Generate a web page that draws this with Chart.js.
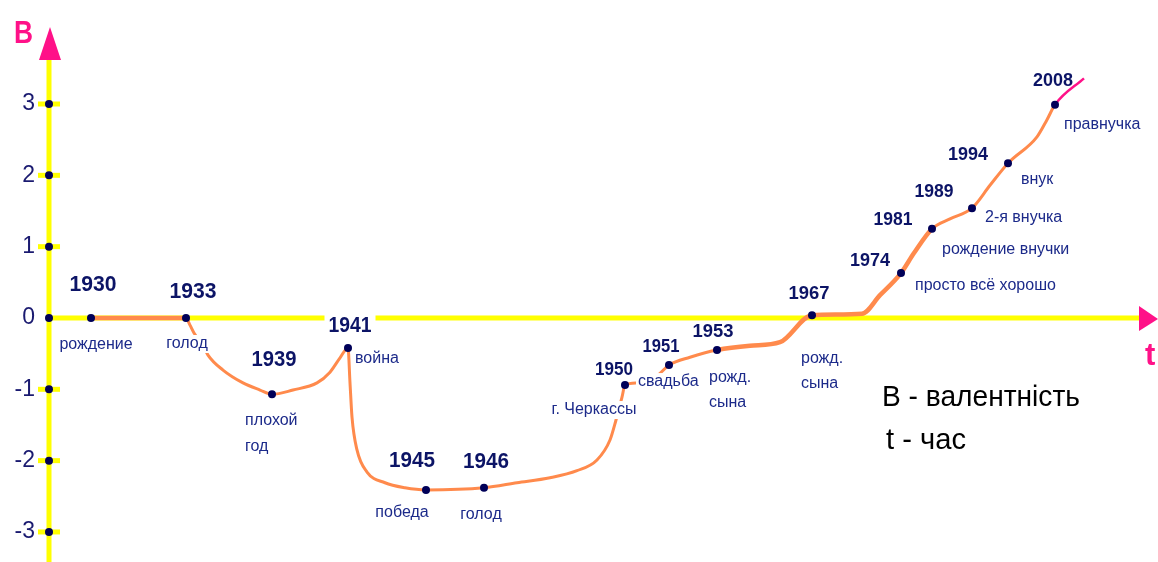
<!DOCTYPE html>
<html><head><meta charset="utf-8">
<script src="https://cdn.jsdelivr.net/npm/chart.js@4.4.1/dist/chart.umd.min.js"></script>
<style>html,body{margin:0;padding:0;background:#fff;overflow:hidden}#wrap{width:1158px;height:562px}</style>
</head><body><div id="wrap"><canvas id="c" width="1158" height="562"></canvas></div>
<script>
// ---------- data ----------
const eventYears = ['1930','1933','1939','1941','1945','1946','1950','1951','1953','1967','1974','1981','1989','1994','2008'];
const eventNotes = [['рождение'],['голод'],['плохой','год'],['война'],['победа'],['голод'],['г. Черкассы'],['свадьба'],['рожд.','сына'],['рожд.','сына'],['просто всё хорошо'],['рождение внучки'],['2-я внучка'],['внук'],['правнучка']];
// horizontal position along the (not-to-scale) time axis t
const eventT = [4.2,13.7,22.3,29.9,37.7,43.5,57.6,62.0,66.8,76.3,85.2,88.3,92.3,95.9,100.6];
// valence B at each event
const eventB = [0,0,-1.07,-0.42,-2.41,-2.38,-0.94,-0.66,-0.45,0.04,0.63,1.25,1.54,2.17,2.99];
// hand-drawn life curve (t, B)
const pathT = [4.2,13.7,14.1,14.5,15.4,15.9,17.4,19.4,21.1,22.3,24.4,26.8,28.1,29.1,29.9,30.1,30.3,30.8,31.8,33.6,35.6,37.7,43.5,46.8,50.1,52.8,54.8,56.1,56.7,57.3,57.6,58.9,60.9,62.0,64.1,66.8,70.1,73.1,76.3,81.3,83.1,85.2,86.5,88.3,90.1,92.3,94.1,95.9,98.8,99.8,100.6,103.5];
const pathB = [0,0,-0.10,-0.21,-0.38,-0.52,-0.73,-0.91,-1.01,-1.07,-1.01,-0.91,-0.76,-0.56,-0.42,-0.91,-1.39,-1.85,-2.16,-2.31,-2.38,-2.41,-2.38,-2.31,-2.24,-2.14,-1.99,-1.71,-1.43,-1.11,-0.94,-0.91,-0.80,-0.66,-0.55,-0.45,-0.39,-0.34,0.04,0.06,0.32,0.63,0.91,1.25,1.39,1.54,1.86,2.17,2.54,2.78,2.99,3.36];
const yTicks = [-3,-2,-1,0,1,2,3];
const axisLabelY = 'В', axisLabelX = 't';
const legendLines = ['В - валентність', 't - час'];

// ---------- styles / layout ----------
const FONT = "'Liberation Sans', Arial, sans-serif";
const YELLOW = '#ffff00', PINK = '#ff1188', ORANGE = '#ff8a4c', NAVY = '#000058', YEARC = '#0c1466', NOTEC = '#1c2a8a';
const yearStyle = [
  {dx:2,dy:-33,s:22,w:47},{dx:7,dy:-26,s:22,w:47},{dx:2,dy:-34,s:22,w:45},{dx:2,dy:-22,s:22,w:43,bg:true},
  {dx:-14,dy:-29,s:22,w:46},{dx:2,dy:-26,s:22,w:46},{dx:-11,dy:-15,s:19,w:38},{dx:-8,dy:-18,s:19,w:37},
  {dx:-4,dy:-18,s:19,w:41},{dx:-3,dy:-21,s:19,w:41},{dx:-31,dy:-12,s:19,w:40},{dx:-39,dy:-9,s:19,w:39},
  {dx:-38,dy:-16,s:19,w:39},{dx:-40,dy:-8,s:19,w:40},{dx:-2,dy:-24,s:19,w:40}];
const noteStyle = [
  {a:'center',dx:5,dy:27},{a:'center',dx:1,dy:26,bg:true},{a:'left',dx:-27,dy:26,g:26},{a:'left',dx:7,dy:11},
  {a:'center',dx:-24,dy:23},{a:'center',dx:-3,dy:27},{a:'center',dx:-31,dy:25,bg:true},{a:'left',dx:-31,dy:17,bg:true},
  {a:'left',dx:-8,dy:28,g:25},{a:'left',dx:-11,dy:43,g:25},{a:'left',dx:14,dy:13},{a:'left',dx:10,dy:21},
  {a:'left',dx:13,dy:9},{a:'left',dx:13,dy:16},{a:'left',dx:9,dy:20}];

const decor = {
  id:'decor',
  beforeDatasetsDraw(chart){
    const {ctx, chartArea:a, scales:{x,y}} = chart;
    const x0 = x.getPixelForValue(0), y0 = y.getPixelForValue(0);
    ctx.save();
    ctx.fillStyle = YELLOW;
    ctx.fillRect(x0-2.5, a.top+56, 5, a.bottom-a.top-56);
    ctx.fillRect(x0, y0-2.5, a.right-18-x0, 5);
    yTicks.forEach(v=>{ if(v!==0){ const py=y.getPixelForValue(v); ctx.fillRect(x0-11, py-2.5, 22, 5);} });
    ctx.fillStyle = NAVY;
    yTicks.forEach(v=>{ const py=y.getPixelForValue(v); ctx.beginPath(); ctx.arc(x0, py, 4, 0, Math.PI*2); ctx.fill(); });
    ctx.fillStyle = PINK;
    ctx.beginPath(); ctx.moveTo(x0+1, a.top+27); ctx.lineTo(x0+12, a.top+60); ctx.lineTo(x0-10, a.top+60); ctx.closePath(); ctx.fill();
    ctx.beginPath(); ctx.moveTo(a.right, y0+1); ctx.lineTo(a.right-19, y0-12); ctx.lineTo(a.right-19, y0+13); ctx.closePath(); ctx.fill();
    ctx.restore();
  },
  afterDatasetsDraw(chart){
    const {ctx, scales:{x,y}} = chart;
    ctx.save();
    ctx.textBaseline = 'middle';
    eventYears.forEach((yr,i)=>{
      const px = x.getPixelForValue(eventT[i]), py = y.getPixelForValue(eventB[i]);
      const ys = yearStyle[i];
      ctx.font = `bold ${ys.s}px ${FONT}`;
      const cx = px+ys.dx, cy = py+ys.dy;
      if(ys.bg){ ctx.fillStyle='#fff'; ctx.fillRect(cx-ys.w/2-4, cy-12, ys.w+8, 23); }
      ctx.fillStyle = YEARC; ctx.textAlign='center';
      ctx.fillText(yr, cx, cy, ys.w);
      const ns = noteStyle[i];
      ctx.font = `16px ${FONT}`;
      ctx.textAlign = ns.a;
      eventNotes[i].forEach((t,k)=>{
        const tx = px+ns.dx, ty = py+ns.dy+k*(ns.g||0);
        if(ns.bg){ const w = ctx.measureText(t).width; const l = ns.a==='center'? tx-w/2 : tx; ctx.fillStyle='#fff'; ctx.fillRect(l-2, ty-9, w+4, 18); }
        ctx.fillStyle = NOTEC;
        ctx.fillText(t, tx, ty);
      });
    });
    ctx.restore();
  },
  afterDraw(chart){
    const {ctx, chartArea:a, scales:{x,y}} = chart;
    const x0 = x.getPixelForValue(0), y0 = y.getPixelForValue(0);
    ctx.save();
    ctx.textBaseline = 'alphabetic'; ctx.textAlign='left';
    ctx.fillStyle = PINK;
    ctx.font = `bold 31px ${FONT}`;
    ctx.fillText(axisLabelY, x0-35, a.top+43, 19);
    ctx.fillText(axisLabelX, a.right-13, y0+47, 11);
    ctx.fillStyle = '#000';
    ctx.font = `30px ${FONT}`;
    ctx.fillText(legendLines[0], 882, 406, 198);
    ctx.fillText(legendLines[1], 886, 449, 80);
    ctx.restore();
  }
};

new Chart(document.getElementById('c'), {
  type:'line',
  data:{ datasets:[
    {label:'path', data: pathT.map((v,i)=>({x:v,y:pathB[i]})), borderColor:ORANGE, borderWidth:3, pointRadius:0,
     cubicInterpolationMode:'monotone', fill:false, order:2,
     segment:{
       borderColor: c => c.p1DataIndex===pathT.length-1 ? PINK : ORANGE,
       borderWidth: c => c.p1DataIndex===pathT.length-1 ? 2.5 : (c.p0DataIndex===0 || (c.p0DataIndex>=35 && c.p0DataIndex<43)) ? 4.5 : 3
     }},
    {label:'events', type:'scatter', data: eventT.map((v,i)=>({x:v,y:eventB[i]})), pointRadius:4, backgroundColor:NAVY, borderWidth:0, showLine:false, order:1}
  ]},
  options:{
    responsive:false, animation:false, devicePixelRatio:1, events:[],
    layout:{padding:0, autoPadding:false},
    plugins:{legend:{display:false}, tooltip:{enabled:false}},
    scales:{
      x:{type:'linear', display:false, min:0, max:110.9},
      y:{type:'linear', min:-3.421, max:4.458,
         grid:{display:false, drawTicks:false}, border:{display:false},
         afterBuildTicks: s => { s.ticks = yTicks.map(v=>({value:v})); },
         afterFit: s => { s.width = 49; s.paddingTop = 0; s.paddingBottom = 0; },
         ticks:{color:'#1a1a70', font:{family:FONT, size:23}, padding:14, callback: v => String(v)}}
    }
  },
  plugins:[decor]
});
</script></body></html>
